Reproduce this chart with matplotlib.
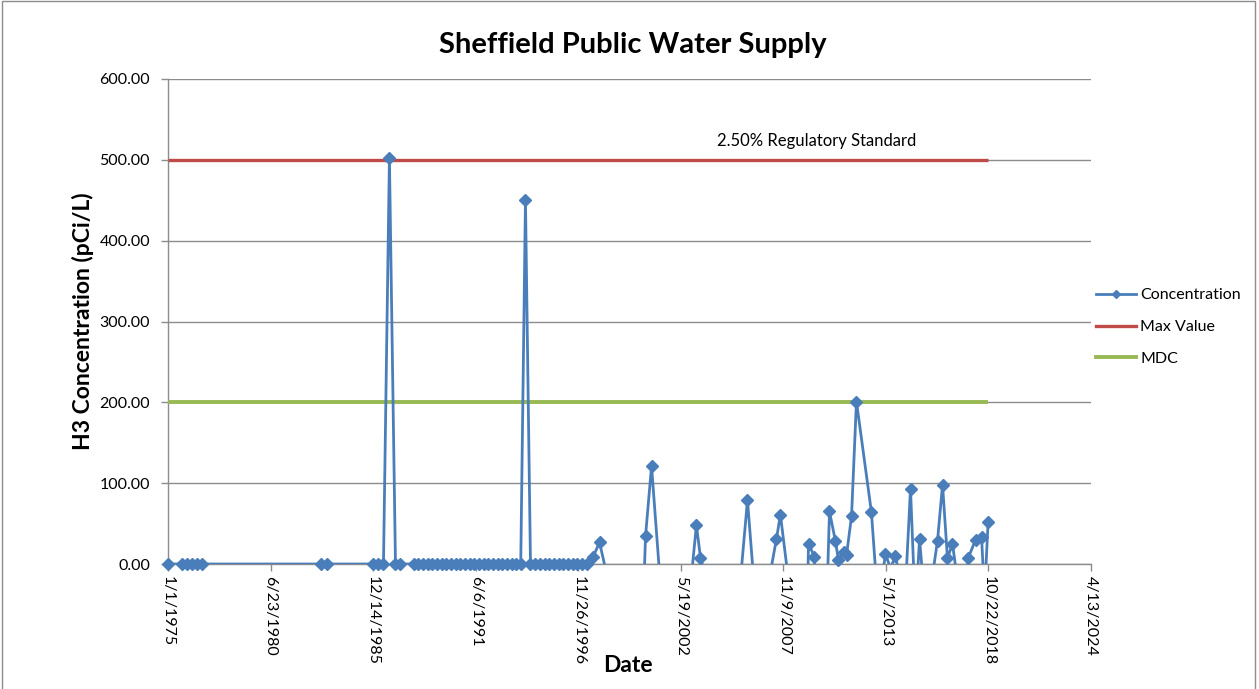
import matplotlib
matplotlib.use("Agg")
import matplotlib.pyplot as plt
import pandas as pd
from matplotlib.lines import Line2D
from matplotlib.patches import Rectangle

plt.rcParams['font.family'] = ['Lato', 'DejaVu Sans']

# Sample dates and H3 concentrations (pCi/L); negative results fall below the axis floor
sample_dates = [
    "1975-01-10", "1975-10-10", "1976-01-15", "1976-04-22", "1976-07-28", "1976-11-03",
    "1983-03-13", "1983-07-07",
    "1985-12-20", "1986-03-28", "1986-07-04", "1986-10-28", "1987-02-23", "1987-05-30",
    "1988-02-10", "1988-05-10", "1988-08-10", "1988-11-10",
    "1989-02-10", "1989-05-10", "1989-08-10", "1989-11-10",
    "1990-02-10", "1990-05-10", "1990-08-10", "1990-11-10",
    "1991-02-10", "1991-05-10", "1991-08-10", "1991-11-10",
    "1992-02-10", "1992-05-10", "1992-08-10", "1992-11-10",
    "1993-02-10", "1993-05-10", "1993-08-10", "1993-11-01",
    "1994-02-01",
    "1994-05-10", "1994-08-10", "1994-11-10",
    "1995-02-10", "1995-05-10", "1995-08-10", "1995-11-10",
    "1996-02-10", "1996-05-10", "1996-08-10", "1996-11-10",
    "1997-02-10", "1997-05-10", "1997-09-15",
    "1998-01-15", "1998-10-15", "1999-07-13", "2000-03-25", "2000-07-01", "2000-10-26",
    "2001-05-27", "2002-03-15", "2002-11-04", "2003-03-20", "2003-06-07", "2003-08-25",
    "2004-06-12", "2005-05-30", "2005-12-10", "2006-06-24", "2007-01-04", "2007-06-28",
    "2007-09-13", "2008-03-27", "2009-02-02", "2009-03-14", "2009-07-08", "2009-07-27",
    "2010-02-09", "2010-04-27", "2010-08-22", "2010-10-19", "2011-01-26", "2011-03-25",
    "2011-07-01", "2011-10-05", "2012-07-23", "2012-11-17", "2013-02-06", "2013-04-23",
    "2013-07-30", "2013-11-03", "2014-02-09", "2014-05-18", "2014-08-24", "2014-11-28",
    "2015-02-16", "2015-05-22", "2015-08-29", "2016-02-02", "2016-05-10", "2016-08-14",
    "2016-11-20", "2017-03-17", "2017-06-20", "2017-09-27", "2018-02-12", "2018-06-09",
    "2018-08-07", "2018-10-15",
]
concentration = [
    0, 0, 0, 0, 0, 0,
    0, 0,
    0, 0, 0, 502, 0, 0,
    0, 0, 0, 0,
    0, 0, 0, 0,
    0, 0, 0, 0,
    0, 0, 0, 0,
    0, 0, 0, 0,
    0, 0, 0, 0,
    450,
    0, 0, 0,
    0, 0, 0, 0,
    0, 0, 0, 0,
    0, 0, 9,
    27, -50, -80, -150, 35, 121,
    -60, -90, -40, 48, 8, -10,
    -70, -60, 79, -80, -30, 31,
    61, -40, -100, 25, 9, -60,
    -100, 65, 28, 5, 15, 11,
    59, 201, 64, -40, -20, 12,
    -5, 10, -20, -30, 93, -60,
    31, -40, -40, 29, 98, 7,
    25, -30, -40, 8, 30, 34,
    -40, 52,
]

max_value = 500.0
mdc = 200.0

x_tick_labels = ["1/1/1975", "6/23/1980", "12/14/1985", "6/6/1991", "11/26/1996",
                 "5/19/2002", "11/9/2007", "5/1/2013", "10/22/2018", "4/13/2024"]
y_ticks = [0, 100, 200, 300, 400, 500, 600]

dates = pd.to_datetime(sample_dates)
tick_dates = pd.to_datetime(x_tick_labels, format="%m/%d/%Y")

blue = "#4A7EBB"
red = "#BE4B48"
green = "#98B954"
grid = "#8C8C8C"

fig = plt.figure(figsize=(12.59, 6.89), dpi=100)
ax = fig.add_axes([168 / 1259, 1 - 564 / 689, (1091 - 168) / 1259, (564 - 79) / 689])

# chart border
fig.patches.append(Rectangle((2 / 1259, -0.05), 1253 / 1259, 1.048, transform=fig.transFigure,
                             fill=False, edgecolor="#8C8C8C", linewidth=1.0))

ax.plot([dates[0], dates[-1]], [max_value, max_value], color=red, lw=2.4, zorder=3,
        solid_capstyle="butt")
ax.plot([dates[0], dates[-1]], [mdc, mdc], color=green, lw=2.8, zorder=3,
        solid_capstyle="butt")

# connecting line is clipped at the axis floor; markers for results >= 0 stay whole
ax.plot(dates, concentration, color=blue, lw=2.0, zorder=4, clip_on=True)
shown = [(d, v) for d, v in zip(dates, concentration) if v >= 0]
ax.plot([d for d, _ in shown], [v for _, v in shown], linestyle="none", marker="D",
        markersize=6.2, markeredgecolor=blue, markerfacecolor=blue, zorder=5, clip_on=False)

ax.set_ylim(0, 600)
ax.set_xlim(tick_dates[0], tick_dates[-1])
ax.set_yticks(y_ticks)
ax.set_yticklabels([f"{v:.2f}" for v in y_ticks], fontsize=11.5)
ax.set_xticks(tick_dates)
ax.set_xticklabels(x_tick_labels, rotation=-90, fontsize=11.5, va="top", ha="center")

ax.yaxis.grid(True, color=grid, lw=1.0)
ax.set_axisbelow(True)
for side in ("top", "right"):
    ax.spines[side].set_visible(False)
for side in ("left", "bottom"):
    ax.spines[side].set_color(grid)
    ax.spines[side].set_linewidth(1.0)
ax.tick_params(axis="both", colors=grid, length=5, width=1.0, labelcolor="black")
ax.tick_params(axis="x", pad=4)
ax.tick_params(axis="y", pad=8)

ax.set_ylabel("H3 Concentration (pCi/L)", fontsize=16.5, fontweight="bold", labelpad=4)
fig.text(628 / 1259, 1 - 665 / 689, "Date", fontsize=16.5, fontweight="bold",
         ha="center", va="center")
fig.text(633 / 1259, 1 - 45 / 689, "Sheffield Public Water Supply", fontsize=21,
         fontweight="bold", ha="center", va="center")
ax.text(pd.Timestamp("2009-08-15"), 513, "2.50% Regulatory Standard", fontsize=12,
        ha="center", va="bottom")

handles = [
    Line2D([], [], color=blue, lw=2.0, marker="D", markersize=4.5),
    Line2D([], [], color=red, lw=2.4),
    Line2D([], [], color=green, lw=2.8),
]
fig.legend(handles, ["Concentration", "Max Value", "MDC"], loc="center left",
           bbox_to_anchor=(1082 / 1259, 1 - 327 / 689), frameon=False, fontsize=11.5,
           handlelength=2.5, handletextpad=0.25, labelspacing=1.1)

fig.savefig("out.png", dpi=100)
